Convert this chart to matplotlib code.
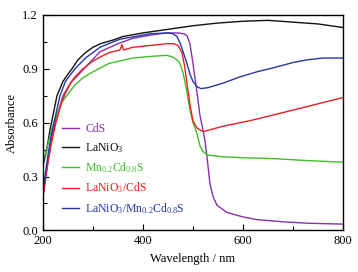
import matplotlib
matplotlib.use("Agg")
import matplotlib.pyplot as plt
from matplotlib.ticker import MultipleLocator

plt.rcParams['font.family'] = ['Liberation Serif', 'DejaVu Serif']
plt.rcParams['mathtext.fontset'] = 'custom'
plt.rcParams['mathtext.rm'] = 'Liberation Serif'
plt.rcParams['mathtext.it'] = 'Liberation Serif:italic'

# values
cds_x = [200, 205, 210, 216, 224, 240, 255, 282, 314, 350, 380, 420, 448, 470, 482, 488,
         494, 500, 508, 514, 520, 524, 528, 534, 540, 548, 568, 600, 628, 680, 728, 800]
cds_y = [0.18, 0.28, 0.38, 0.49, 0.60, 0.75, 0.82, 0.90, 0.995, 1.04, 1.07, 1.09, 1.10, 1.10, 1.095, 1.085,
         1.04, 0.93, 0.77, 0.64, 0.56, 0.50, 0.41, 0.26, 0.19, 0.14, 0.10, 0.075, 0.06, 0.048, 0.04, 0.035]

lno_x = [200, 205, 210, 214, 220, 228, 240, 250, 258, 270, 285, 300, 315, 340, 360, 400,
         450, 500, 550, 600, 650, 700, 750, 800]
lno_y = [0.36, 0.42, 0.49, 0.56, 0.64, 0.75, 0.83, 0.87, 0.90, 0.95, 0.99, 1.02, 1.04, 1.06, 1.08, 1.10,
         1.12, 1.14, 1.155, 1.165, 1.17, 1.16, 1.15, 1.13]

mcs_x = [200, 205, 210, 216, 222, 230, 238, 250, 264, 280, 298, 332, 380, 420, 448, 460,
         468, 474, 480, 488, 494, 500, 508, 514, 520, 528, 560, 600, 660, 720, 800]
mcs_y = [0.38, 0.43, 0.48, 0.55, 0.60, 0.66, 0.715, 0.76, 0.81, 0.85, 0.88, 0.93, 0.96, 0.97, 0.975, 0.965,
         0.95, 0.93, 0.88, 0.77, 0.67, 0.60, 0.54, 0.47, 0.44, 0.42, 0.41, 0.405, 0.40, 0.39, 0.38]

lcds_x = [200, 205, 210, 218, 226, 236, 244, 255, 264, 280, 298, 314, 332, 354, 358, 361,
          380, 414, 448, 462, 470, 478, 483, 488, 494, 500, 508, 520, 560, 620, 700, 800]
lcds_y = [0.20, 0.29, 0.38, 0.50, 0.60, 0.70, 0.76, 0.82, 0.855, 0.90, 0.94, 0.965, 0.99, 1.005, 1.035, 1.005,
          1.02, 1.03, 1.04, 1.04, 1.03, 0.99, 0.92, 0.82, 0.70, 0.61, 0.57, 0.55, 0.58, 0.615, 0.67, 0.74]

lmcs_x = [200, 205, 210, 216, 222, 234, 245, 264, 285, 314, 354, 414, 450, 460, 468, 474,
          482, 488, 494, 500, 508, 516, 530, 560, 594, 630, 660, 700, 728, 760, 800]
lmcs_y = [0.23, 0.32, 0.42, 0.52, 0.60, 0.75, 0.83, 0.90, 0.96, 1.02, 1.065, 1.095, 1.10, 1.095, 1.08, 1.045,
          0.98, 0.93, 0.87, 0.83, 0.80, 0.79, 0.795, 0.82, 0.855, 0.885, 0.905, 0.935, 0.95, 0.96, 0.96]

series = [
    (cds_x, cds_y, '#8a2fb0', 'CdS'),
    (lno_x, lno_y, '#111111', 'LaNiO$_3$'),
    (mcs_x, mcs_y, '#3fbf2a', 'Mn$_{0.2}$Cd$_{0.8}$S'),
    (lcds_x, lcds_y, '#ee2020', 'LaNiO$_3$/CdS'),
    (lmcs_x, lmcs_y, '#2438a8', 'LaNiO$_3$/Mn$_{0.2}$Cd$_{0.8}$S'),
]

fig = plt.figure(figsize=(3.58, 2.72), dpi=100)
ax = fig.add_axes([0.120, 0.153, 0.838, 0.792])

for x, y, c, lab in series:
    ax.plot(x, y, color=c, lw=1.0, label=lab)

ax.set_xlim(200, 800)
ax.set_ylim(0, 1.2)
ax.xaxis.set_major_locator(MultipleLocator(200))
ax.xaxis.set_minor_locator(MultipleLocator(100))
ax.yaxis.set_major_locator(MultipleLocator(0.3))
ax.yaxis.set_minor_locator(MultipleLocator(0.15))
ax.set_yticklabels(['%.1f' % v for v in ax.get_yticks()])
ax.tick_params(which='both', direction='in', labelsize=9, width=0.8)
ax.tick_params(which='major', length=4)
ax.tick_params(which='minor', length=3)
for s in ax.spines.values():
    s.set_linewidth(1.0)

ax.set_xlabel('Wavelength / nm', fontsize=9, labelpad=4)
ax.set_ylabel('Absorbance', fontsize=9, labelpad=3)

leg = ax.legend(loc='upper left', bbox_to_anchor=(0.047, 0.52), frameon=False,
                fontsize=8.5, handlelength=1.5, handletextpad=0.5,
                labelspacing=0.48, labelcolor='linecolor', borderaxespad=0)

fig.savefig('out.png', dpi=100)
